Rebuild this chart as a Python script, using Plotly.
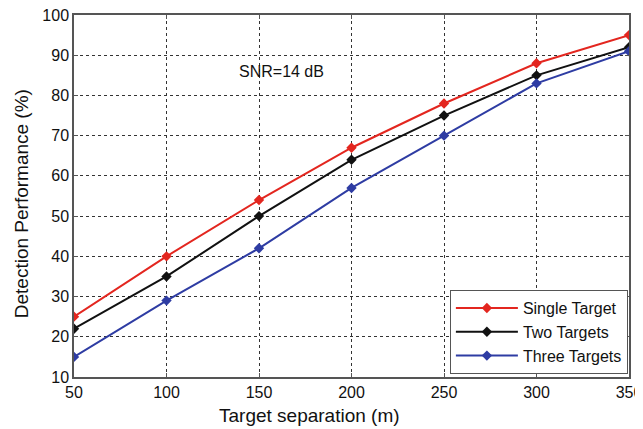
import plotly.graph_objects as go

separation = [50, 100, 150, 200, 250, 300, 350]
single_target = [25, 40, 54, 67, 78, 88, 95]
two_targets = [22, 35, 50, 64, 75, 85, 92]
three_targets = [15, 29, 42, 57, 70, 83, 91]

series = [
    ("Single Target", single_target, "#e3261f"),
    ("Two Targets", two_targets, "#111111"),
    ("Three Targets", three_targets, "#2e3ca3"),
]

FONT = "Liberation Sans, Arial"

fig = go.Figure()
for name, vals, col in series:
    fig.add_trace(go.Scatter(
        x=separation, y=vals, name=name, mode="lines+markers",
        line=dict(color=col, width=2),
        marker=dict(symbol="diamond", size=8, color=col),
    ))

axis_common = dict(
    showline=True, linecolor="#555555", linewidth=1.5, mirror="ticks",
    showgrid=True, gridcolor="#333333", griddash="dot", gridwidth=1,
    ticks="inside", ticklen=4, tickcolor="#555555",
    zeroline=False, automargin=False, ticklabeloverflow="allow",
    tickfont=dict(family=FONT, size=16, color="#111111"),
)

# page body adds an 8px offset; figure sized to compensate
fig.update_layout(
    width=635, height=421,
    margin=dict(l=66, r=14, t=7, b=52),
    paper_bgcolor="white", plot_bgcolor="white",
    font=dict(family=FONT, color="#111111"),
    xaxis=dict(range=[50, 350], dtick=50, tick0=50, **axis_common),
    yaxis=dict(range=[10, 100], dtick=10, tick0=10, **axis_common),
    legend=dict(x=0.998, y=0.008, xanchor="right", yanchor="bottom",
                bordercolor="#555555", borderwidth=1, bgcolor="white",
                font=dict(family=FONT, size=16), tracegroupgap=0, itemwidth=62),
    showlegend=True,
    annotations=[
        dict(x=162, y=86, xref="x", yref="y", text="SNR=14 dB",
             showarrow=False, font=dict(size=16, color="#111111")),
        dict(x=0.425, y=-0.105, xref="paper", yref="paper", text="Target separation (m)",
             showarrow=False, xanchor="center", yanchor="middle",
             font=dict(size=19, color="#111111")),
        dict(x=-0.0955, y=0.48, xref="paper", yref="paper", text="Detection Performance (%)",
             showarrow=False, xanchor="center", yanchor="middle", textangle=-90,
             font=dict(size=19, color="#111111")),
    ],
)

fig.write_html("out.html")
